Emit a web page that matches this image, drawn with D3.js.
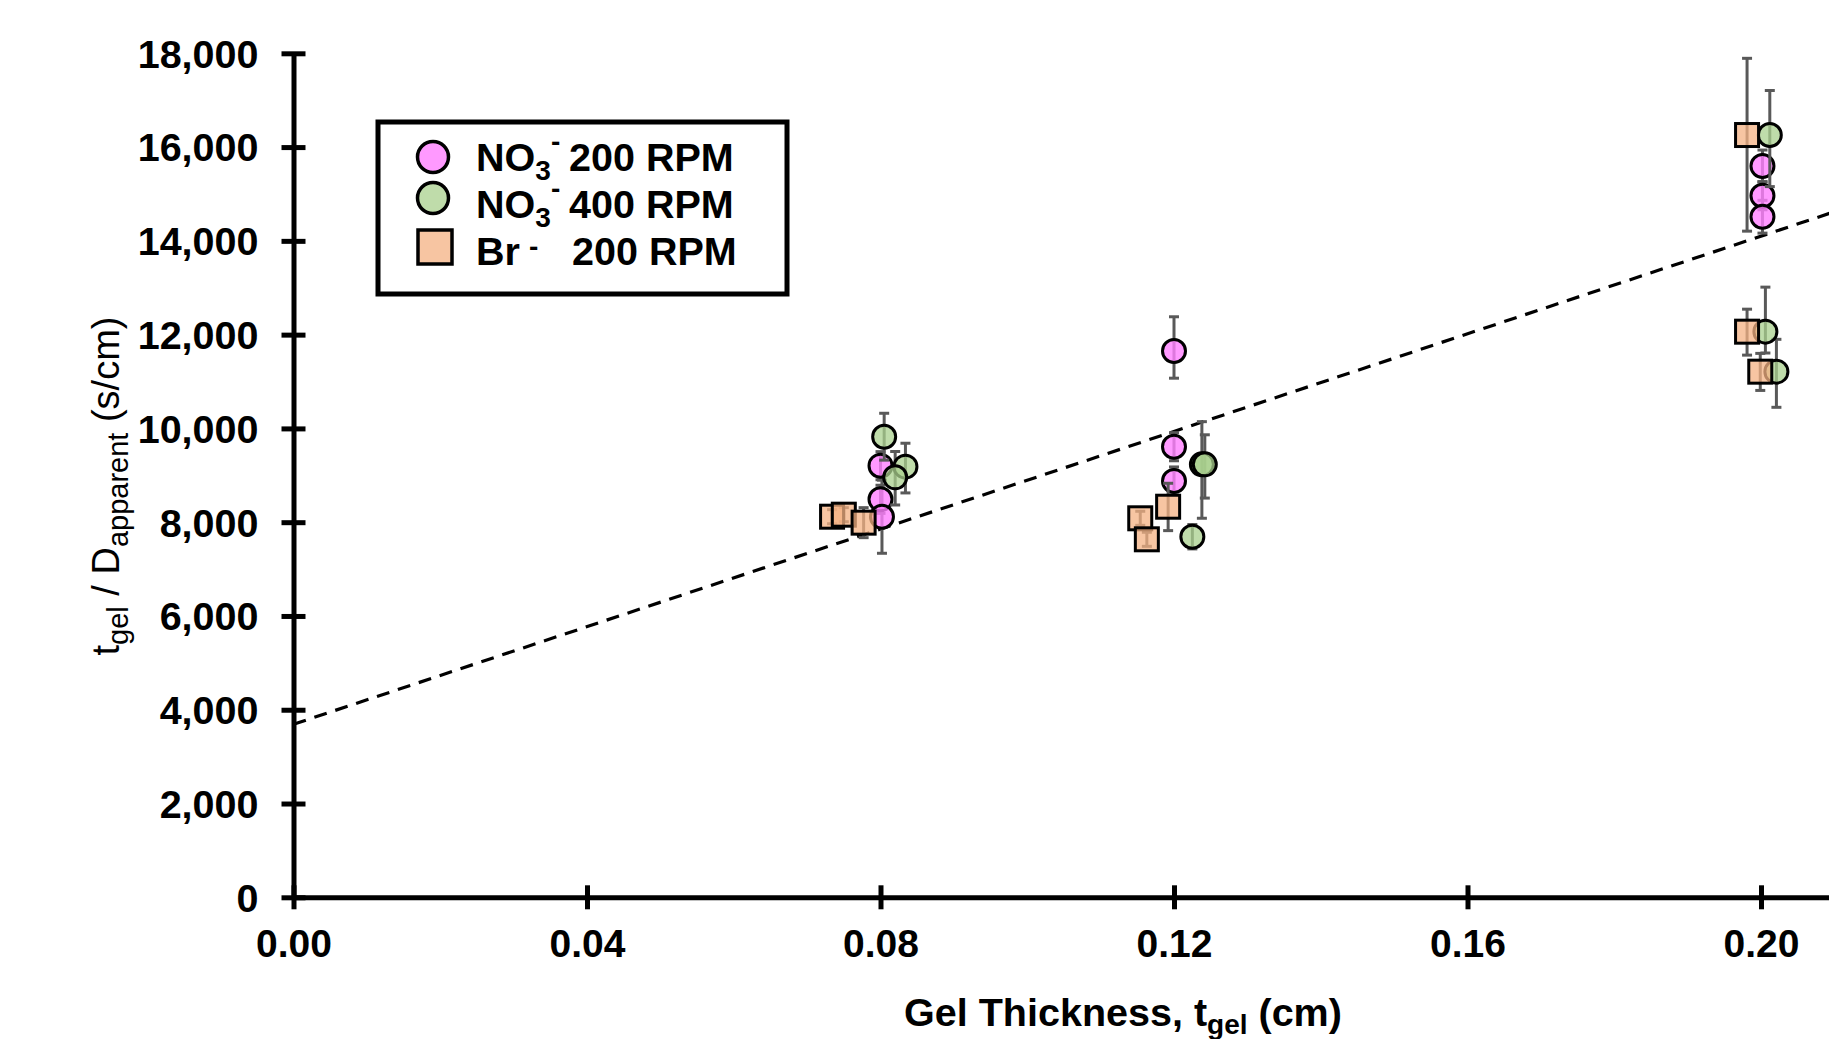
<!DOCTYPE html>
<html>
<head>
<meta charset="utf-8">
<script src="https://cdn.jsdelivr.net/npm/d3@7"></script>
<style>
  html, body { margin: 0; padding: 0; background: #fff; overflow: hidden; }
  svg { display: block; font-family: "Liberation Sans", Arial, sans-serif; }
</style>
</head>
<body>
<svg id="chart" width="1829" height="1039"></svg>
<script>
// Gel thickness (cm) vs t_gel / D_apparent (s/cm)

// NO3- at 200 RPM
const no3Rpm200X     = [0.0800, 0.0800, 0.0802, 0.1200, 0.1200, 0.1200, 0.2002, 0.2002, 0.2002];
const no3Rpm200Y     = [9205, 8488, 8117, 11651, 9610, 8878, 15597, 14963, 14515];
const no3Rpm200Plus  = [300, 300, 780, 730, 300, 300, 340, 300, 350];
const no3Rpm200Minus = [300, 300, 780, 580, 300, 300, 340, 300, 350];

// NO3- at 400 RPM
const no3Rpm400X     = [0.0805, 0.0834, 0.0820, 0.1225, 0.1238, 0.1242, 0.2012, 0.2006, 0.2021];
const no3Rpm400Y     = [9823, 9184, 8957, 7690, 9234, 9234, 16257, 12063, 11210];
const no3Rpm400Plus  = [500, 500, 550, 260, 910, 630, 950, 950, 690];
const no3Rpm400Minus = [500, 560, 590, 260, 1150, 720, 1100, 455, 760];

// Br- at 200 RPM
const brRpm200X      = [0.0734, 0.0750, 0.0777, 0.1154, 0.1163, 0.1192, 0.1981, 0.1981, 0.1999];
const brRpm200Y      = [8117, 8160, 7990, 8083, 7635, 8330, 16257, 12063, 11210];
const brRpm200Plus   = [150, 150, 320, 150, 150, 500, 1636, 480, 390];
const brRpm200Minus  = [150, 150, 320, 150, 150, 510, 2050, 500, 400];

// Linear fit across all series
const fitIntercept = 3690;
const fitSlope = 52050;

// Axis ticks
const xTicks = [0.00, 0.04, 0.08, 0.12, 0.16, 0.20];
const yTicks = [0, 2000, 4000, 6000, 8000, 10000, 12000, 14000, 16000, 18000];

const svg = d3.select("#chart");
const FONT = "'Liberation Sans', Arial, sans-serif";

const x0 = 293.5, yBottom = 897.3, yTop = 53.3;
const pxPerX = 7337.5;
const x = d3.scaleLinear().domain([0, 0.21]).range([x0, x0 + 0.21 * pxPerX]);
const y = d3.scaleLinear().domain([0, 18000]).range([yBottom, yTop]);

const axisW = 5;

// X axis
const xAxisG = svg.append("g")
  .attr("transform", `translate(0,${yBottom})`)
  .call(d3.axisBottom(x).tickValues(xTicks).tickFormat(d3.format(".2f")).tickSizeOuter(0).tickSizeInner(12));
xAxisG.select(".domain").attr("stroke", "#000").attr("stroke-width", axisW);
xAxisG.selectAll(".tick line").attr("stroke", "#000").attr("stroke-width", axisW).attr("y1", -12).attr("y2", 12);
xAxisG.selectAll(".tick text")
  .attr("y", 60).attr("dy", 0)
  .attr("fill", "#000")
  .style("font-size", "39px").style("font-weight", "bold")
  .style("font-family", FONT);

// Y axis
const yAxisG = svg.append("g")
  .attr("transform", `translate(${x0},0)`)
  .call(d3.axisLeft(y).tickValues(yTicks).tickFormat(d3.format(",")).tickSizeOuter(0).tickSizeInner(12));
yAxisG.select(".domain").attr("stroke", "#000").attr("stroke-width", axisW);
yAxisG.selectAll(".tick line").attr("stroke", "#000").attr("stroke-width", axisW).attr("x1", -12).attr("x2", 12);
yAxisG.selectAll(".tick text")
  .attr("x", -35).attr("dy", "0.35em")
  .attr("fill", "#000")
  .style("font-size", "39.5px").style("font-weight", "bold")
  .style("font-family", FONT);

// Trend line
svg.append("line")
  .attr("x1", x(0)).attr("y1", y(fitIntercept))
  .attr("x2", x(0.21)).attr("y2", y(fitIntercept + fitSlope * 0.21))
  .attr("stroke", "#000").attr("stroke-width", 3.2)
  .attr("stroke-dasharray", "13,9");

// Series definitions
const series = [
  { xs: no3Rpm200X, ys: no3Rpm200Y, plus: no3Rpm200Plus, minus: no3Rpm200Minus, shape: "circle", fill: "#FF80FF", opacity: 0.8 },
  { xs: no3Rpm400X, ys: no3Rpm400Y, plus: no3Rpm400Plus, minus: no3Rpm400Minus, shape: "circle", fill: "#A9D08E", opacity: 0.75 },
  { xs: brRpm200X,  ys: brRpm200Y,  plus: brRpm200Plus,  minus: brRpm200Minus,  shape: "square", fill: "#F4B183", opacity: 0.75 }
];

const capHalf = 5;
const errColor = "#595959";

series.forEach(s => {
  const pts = s.xs.map((xv, i) => ({ x: xv, y: s.ys[i], hi: s.ys[i] + s.plus[i], lo: s.ys[i] - s.minus[i] }));
  const g = svg.append("g");
  // error bars
  const eb = g.selectAll("g.err").data(pts).enter().append("g").attr("class", "err");
  eb.append("line")
    .attr("x1", d => x(d.x)).attr("x2", d => x(d.x))
    .attr("y1", d => y(d.hi)).attr("y2", d => y(d.lo))
    .attr("stroke", errColor).attr("stroke-width", 3);
  eb.append("line")
    .attr("x1", d => x(d.x) - capHalf).attr("x2", d => x(d.x) + capHalf)
    .attr("y1", d => y(d.hi)).attr("y2", d => y(d.hi))
    .attr("stroke", errColor).attr("stroke-width", 3);
  eb.append("line")
    .attr("x1", d => x(d.x) - capHalf).attr("x2", d => x(d.x) + capHalf)
    .attr("y1", d => y(d.lo)).attr("y2", d => y(d.lo))
    .attr("stroke", errColor).attr("stroke-width", 3);
  // markers
  if (s.shape === "circle") {
    g.selectAll("circle").data(pts).enter().append("circle")
      .attr("cx", d => x(d.x)).attr("cy", d => y(d.y)).attr("r", 11.5)
      .attr("fill", s.fill).attr("fill-opacity", s.opacity)
      .attr("stroke", "#000").attr("stroke-width", 3);
  } else {
    g.selectAll("rect").data(pts).enter().append("rect")
      .attr("x", d => x(d.x) - 11.5).attr("y", d => y(d.y) - 11.5)
      .attr("width", 23).attr("height", 23)
      .attr("fill", s.fill).attr("fill-opacity", s.opacity)
      .attr("stroke", "#000").attr("stroke-width", 3);
  }
});

// Legend
const leg = svg.append("g");
leg.append("rect")
  .attr("x", 378).attr("y", 122).attr("width", 409).attr("height", 172)
  .attr("fill", "#fff").attr("stroke", "#000").attr("stroke-width", 5);

leg.append("circle").attr("cx", 433).attr("cy", 157).attr("r", 15.5)
  .attr("fill", series[0].fill).attr("fill-opacity", series[0].opacity)
  .attr("stroke", "#000").attr("stroke-width", 3.5);
leg.append("circle").attr("cx", 433).attr("cy", 198).attr("r", 15.5)
  .attr("fill", series[1].fill).attr("fill-opacity", series[1].opacity)
  .attr("stroke", "#000").attr("stroke-width", 3.5);
leg.append("rect").attr("x", 418).attr("y", 230).attr("width", 34).attr("height", 34)
  .attr("fill", series[2].fill).attr("fill-opacity", series[2].opacity)
  .attr("stroke", "#000").attr("stroke-width", 3.5);

function no3Label(baseline, rpm) {
  const t = leg.append("text").attr("x", 476).attr("y", baseline)
    .style("font-size", "39.5px").style("font-weight", "bold").attr("fill", "#000");
  t.append("tspan").text("NO");
  t.append("tspan").attr("dy", 9).style("font-size", "28px").text("3");
  t.append("tspan").attr("x", 551).attr("y", baseline - 20).style("font-size", "28px").text("-");
  t.append("tspan").attr("x", 569).attr("y", baseline).text(rpm + " RPM");
}
no3Label(171, "200");
no3Label(218, "400");

const br = leg.append("text").attr("x", 476).attr("y", 265)
  .style("font-size", "39.5px").style("font-weight", "bold").attr("fill", "#000");
br.append("tspan").text("Br");
br.append("tspan").attr("x", 529).attr("y", 256).style("font-size", "28px").text("-");
br.append("tspan").attr("x", 572).attr("y", 265).text("200 RPM");

// Axis titles
const xt = svg.append("text")
  .attr("x", 1123).attr("y", 1026).attr("text-anchor", "middle")
  .style("font-size", "39.5px").style("font-weight", "bold").attr("fill", "#000");
xt.append("tspan").text("Gel Thickness, t");
xt.append("tspan").attr("dy", 8).style("font-size", "28px").text("gel");
xt.append("tspan").attr("dy", -8).text(" (cm)");

const yt = svg.append("text")
  .attr("transform", "translate(119,486) rotate(-90)")
  .attr("text-anchor", "middle")
  .style("font-size", "38px").attr("fill", "#000");
yt.append("tspan").text("t");
yt.append("tspan").attr("dy", 9).style("font-size", "29px").text("gel");
yt.append("tspan").attr("dy", -9).text(" / D");
yt.append("tspan").attr("dy", 9).style("font-size", "29px").text("apparent");
yt.append("tspan").attr("dy", -9).text(" (s/cm)");
</script>
</body>
</html>
